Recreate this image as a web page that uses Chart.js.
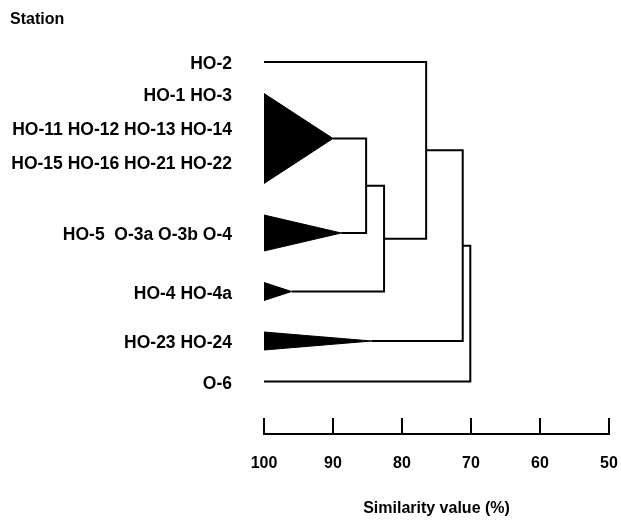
<!DOCTYPE html>
<html>
<head>
<meta charset="utf-8">
<script src="https://cdn.jsdelivr.net/npm/chart.js@4.4.0/dist/chart.umd.min.js"></script>
<style>
  html, body { margin: 0; padding: 0; background: #fff; }
  #wrap { width: 621px; height: 523px; }
</style>
</head>
<body>
<div id="wrap"><canvas id="dendro" width="621" height="523"></canvas></div>
<script>
// station groups, top to bottom
const groupLabels = [
  ['HO-2'],
  ['HO-1 HO-3', 'HO-11 HO-12 HO-13 HO-14', 'HO-15 HO-16 HO-21 HO-22'],
  ['HO-5  O-3a O-3b O-4'],
  ['HO-4 HO-4a'],
  ['HO-23 HO-24'],
  ['O-6']
];
const groupSizes = [1, 10, 4, 2, 2, 1];
// similarity inside each group (tip of the triangle)
const groupSimilarity = [100, 90.0, 88.8, 96.0, 84.4, 100];

// joins: ids 0-5 are the groups, each join gets the next id
const joinLeft = [1, 6, 0, 8, 9];
const joinRight = [2, 3, 7, 4, 5];
const joinSimilarity = [85.2, 82.6, 76.5, 71.2, 70.1];

const similarityTicks = [100, 90, 80, 70, 60, 50];

// vertical layout in "station" units
const GAP = 3.5;
const LINE = 34 / 9;
let pos = 0;
const groupTop = [], groupMid = [];
groupSizes.forEach((n, i) => {
  const h = n > 1 ? n : 0;
  if (i > 0) pos += GAP;
  groupTop.push(pos);
  groupMid.push(pos + h / 2);
  pos += h;
});

const labelPos = groupLabels.map((l, i) =>
  l.length > 1 ? groupTop[i] + (l.length - 1) * LINE / 2 : groupMid[i]);

const black = '#000';
const datasets = [];

function link(points) {
  return {
    data: points, showLine: true, pointRadius: 0, borderColor: black,
    borderWidth: 2, borderJoinStyle: 'miter', fill: false, tension: 0
  };
}

const nodeX = groupSimilarity.slice();
const nodeY = groupMid.slice();
joinLeft.forEach((a, k) => {
  const b = joinRight[k];
  const s = joinSimilarity[k];
  datasets.push(link([
    { x: nodeX[a], y: nodeY[a] },
    { x: s, y: nodeY[a] },
    { x: s, y: nodeY[b] },
    { x: nodeX[b], y: nodeY[b] }
  ]));
  nodeX.push(s);
  nodeY.push((nodeY[a] + nodeY[b]) / 2);
});

groupSizes.forEach((n, i) => {
  if (n < 2) return;
  datasets.push({
    data: [
      { x: 100, y: groupTop[i] },
      { x: groupSimilarity[i], y: groupMid[i] },
      { x: 100, y: groupTop[i] + n },
      { x: 100, y: groupTop[i] }
    ],
    showLine: true, pointRadius: 0, borderColor: black, borderWidth: 1,
    backgroundColor: black, fill: 'shape', tension: 0
  });
});

const ctx = document.getElementById('dendro').getContext('2d');
const chart = new Chart(ctx, {
  type: 'scatter',
  data: { datasets: datasets },
  options: {
    responsive: false,
    animation: false,
    layout: { padding: { left: 10, right: 12, top: 0, bottom: 0 } },
    plugins: {
      legend: { display: false },
      tooltip: { enabled: false },
      title: {
        display: true, text: 'Station', align: 'start', color: black,
        font: { family: 'Liberation Sans', size: 16, weight: 'bold' },
        padding: { top: 9.5, bottom: 15.3 }
      }
    },
    scales: {
      x: {
        type: 'linear', min: 50, max: 100, reverse: true,
        afterBuildTicks: s => { s.ticks = similarityTicks.map(v => ({ value: v })); },
        afterFit: s => { s.height = 89; s.paddingLeft = 0; s.paddingRight = 9; },
        ticks: {
          color: black, padding: 36, maxRotation: 0,
          font: { family: 'Liberation Sans', size: 16, weight: 'bold' }
        },
        grid: {
          drawOnChartArea: false, drawTicks: true, tickLength: -16,
          color: black, lineWidth: 2
        },
        border: { display: true, color: black, width: 2 },
        title: {
          display: true, text: 'Similarity value (%)', color: black,
          font: { family: 'Liberation Sans', size: 16, weight: 'bold' },
          padding: { top: 0, bottom: 5 }
        }
      },
      y: {
        type: 'linear', min: -2, max: 41.333, reverse: true,
        afterBuildTicks: s => { s.ticks = labelPos.map(v => ({ value: v })); },
        afterFit: s => { s.width = 254; s.paddingTop = 0; s.paddingBottom = 0; },
        ticks: {
          autoSkip: false, color: black, padding: 32, labelOffset: 2.5,
          font: { family: 'Liberation Sans', size: 17.5, weight: 'bold', lineHeight: 34 / 17.5 },
          callback: (v, i) => groupLabels[i]
        },
        grid: { display: false, drawTicks: false },
        border: { display: false }
      }
    }
  }
});
</script>
</body>
</html>
